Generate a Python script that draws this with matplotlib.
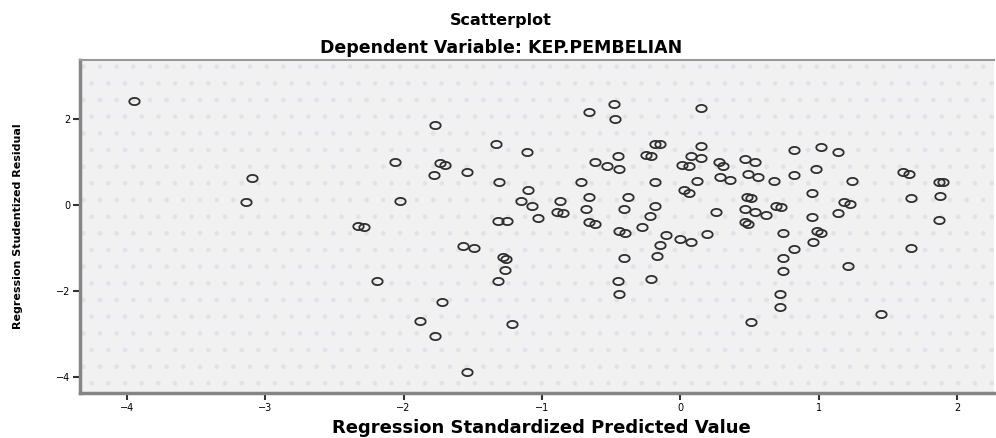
import numpy as np
import matplotlib
matplotlib.use("Agg")
import matplotlib.pyplot as plt
from matplotlib.patches import Rectangle

# regression standardized predicted value (x) / studentized residual (y)
pred = [
    -3.95, -3.10, -3.14, -2.33, -2.29, -2.06, -1.77, -1.74, -1.70, -1.78,
    -1.54, -2.03, -2.19, -1.57, -1.49, -1.72, -1.88, -1.77, -1.54, -1.33,
    -1.31, -1.32, -1.32, -1.28, -1.26, -1.27, -1.22,
    -0.48, -0.66, -0.47, -1.11, -0.18, -0.15, -0.25, -0.21, -0.45, -0.62,
    -0.53, -0.44, -0.72, -0.18, -1.10, -1.15, -1.07, -0.87, -0.66, -0.38,
    -0.89, -0.85, -0.68, -0.41, -0.18, -1.25, -1.03, -0.66, -0.62, -0.22,
    -0.44, -0.40, -0.28, -0.15, -0.17, -0.41, -0.45, -0.44, -0.21,
    0.15, 0.15, 0.08, 0.15, 0.01, 0.06, 0.28, 0.31, 0.47, 0.54,
    0.82, 1.02, 1.14, 0.12, 0.29, 0.36, 0.49, 0.56, 0.68, 0.82,
    0.98, 1.24, 1.61, 1.65, 1.87, 1.90, 1.88, 1.67, 0.03, 0.06,
    0.48, 0.51, 0.69, 0.73, 0.95, 0.26, 0.47, 0.54, 0.62, 0.47,
    0.49, 0.95, 1.18, 1.23, 1.14, 0.99, 1.02, 0.96, 1.87, -0.10,
    0.00, 0.08, 0.19, 0.74, 0.82, 0.74, 0.74, 0.72, 0.72, 0.51,
    1.67, 1.21, 1.45,
]
resid = [
    2.42, 0.62, 0.06, -0.49, -0.52, 1.01, 1.87, 0.97, 0.94, 0.71,
    0.76, 0.09, -1.77, -0.96, -1.00, -2.25, -2.69, -3.04, -3.87, 1.41,
    0.53, -0.38, -1.77, -1.21, -1.26, -1.51, -2.76,
    2.35, 2.17, 2.01, 1.24, 1.41, 1.41, 1.17, 1.15, 1.15, 0.99,
    0.90, 0.83, 0.53, 0.53, 0.34, 0.09, -0.01, 0.09, 0.18, 0.18,
    -0.15, -0.19, -0.08, -0.08, -0.03, -0.38, -0.31, -0.40, -0.45, -0.26,
    -0.61, -0.66, -0.52, -0.93, -1.19, -1.23, -1.77, -2.07, -1.72,
    2.26, 1.38, 1.15, 1.10, 0.94, 0.90, 0.99, 0.92, 1.06, 0.99,
    1.29, 1.36, 1.24, 0.55, 0.66, 0.59, 0.73, 0.66, 0.55, 0.71,
    0.83, 0.57, 0.78, 0.73, 0.53, 0.53, 0.22, 0.16, 0.34, 0.29,
    0.18, 0.16, -0.01, -0.05, 0.27, -0.17, -0.08, -0.17, -0.22, -0.40,
    -0.45, -0.28, 0.06, 0.02, -0.19, -0.61, -0.66, -0.86, -0.35, -0.70,
    -0.79, -0.86, -0.68, -0.66, -1.03, -1.23, -1.53, -2.07, -2.37, -2.72,
    -1.00, -1.42, -2.53,
]
xticks = [-4, -3, -2, -1, 0, 1, 2]
yticks = [2, 0, -2, -4]

title = "Scatterplot"
subtitle = "Dependent Variable: KEP.PEMBELIAN"
xlabel = "Regression Standardized Predicted Value"
ylabel = "Regression Studentized Residual"

# squashed circle, the picture is stretched sideways
t = np.linspace(0, 2 * np.pi, 40)
ellipse = list(zip(1.45 * np.cos(t), np.sin(t)))

fig = plt.figure(figsize=(9.96, 4.38), dpi=100)
ax = fig.add_axes([0.0803, 0.1027, 0.918, 0.760])
ax.set_facecolor("#f1f1f1")
ax.add_patch(Rectangle((0, 0), 1, 1, transform=ax.transAxes, facecolor="none",
                       edgecolor="#e2e2ea", hatch=".", linewidth=0, zorder=0))

ax.plot(pred, resid, linestyle="none", marker=ellipse, markersize=7.5,
        markerfacecolor="none", markeredgecolor="#2e2e2e", markeredgewidth=1.3)

ax.set_xlim(-4.34, 2.27)
ax.set_ylim(-4.37, 3.37)
ax.set_xticks(xticks)
ax.set_yticks(yticks)
ax.tick_params(length=5, width=1.5, color="#333333", labelsize=7, pad=2)

for side in ["left", "bottom"]:
    ax.spines[side].set_color("#858585")
    ax.spines[side].set_linewidth(2.5)
ax.spines["top"].set_color("#999999")
ax.spines["top"].set_linewidth(1.5)
ax.spines["right"].set_visible(False)

fig.text(0.503, 0.954, title, ha="center", va="center", fontsize=11.5, fontweight="bold")
fig.text(0.503, 0.890, subtitle, ha="center", va="center", fontsize=12.5, fontweight="bold")
fig.text(0.544, 0.023, xlabel, ha="center", va="center", fontsize=13, fontweight="bold")
fig.text(0.018, 0.484, ylabel, ha="center", va="center", rotation=90, fontsize=8, fontweight="bold")

fig.savefig("out.png", dpi=100)
